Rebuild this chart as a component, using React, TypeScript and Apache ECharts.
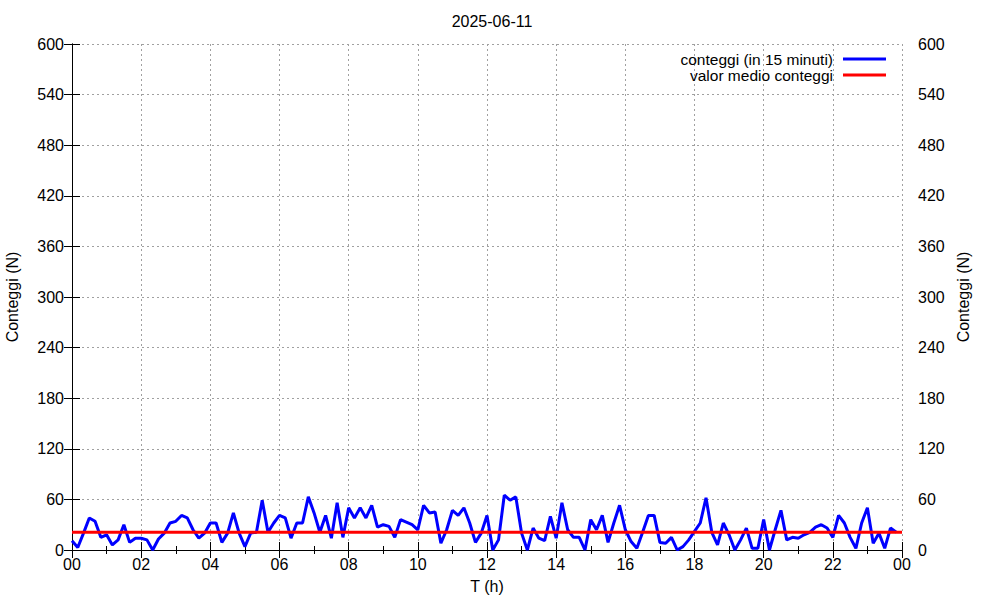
import React, { useEffect, useRef } from "react";
import * as echarts from "echarts";

const TITLE = "2025-06-11";
const SERIES_NAME = "conteggi (in 15 minuti)";
const MEAN_NAME = "valor medio conteggi";
const Y_NAME = "Conteggi (N)";
const X_NAME = "T (h)";

// one reading every 10 minutes, 00:00 .. 23:50
const STEP_H = 1 / 6;
const counts = [
  11, 3, 20, 38, 34, 15, 18, 6, 12, 30, 9, 14, 14, 12, 0, 13, 20, 32, 34, 41,
  38, 24, 14, 20, 32, 32, 9, 20, 44, 20, 4, 20, 21, 59, 21, 32, 41, 38, 14, 32,
  32, 63, 44, 21, 41, 14, 56, 15, 50, 38, 50, 38, 53, 27, 30, 28, 15, 36, 33, 30,
  24, 53, 44, 45, 8, 24, 47, 41, 50, 32, 9, 20, 41, 0, 12, 65, 59, 63, 20, 0,
  26, 14, 11, 40, 14, 56, 24, 15, 15, 0, 36, 24, 41, 9, 32, 53, 24, 10, 2, 21,
  41, 41, 9, 8, 15, 0, 4, 12, 22, 32, 62, 21, 6, 32, 18, 0, 12, 26, 2, 2,
  36, 0, 24, 47, 12, 15, 14, 18, 21, 27, 30, 26, 15, 41, 32, 15, 2, 32, 50, 8,
  20, 2, 26, 21,
];
const meanValue = 21;
const X_MIN = 0;
const X_MAX = 24;
const X_STEP = 2;
const Y_MIN = 0;
const Y_MAX = 600;
const Y_STEP = 60;

const FONT = "'Liberation Sans', Arial, sans-serif";

export default function App() {
  const ref = useRef<HTMLDivElement>(null);
  useEffect(() => {
    if (!ref.current) return;
    const chart = echarts.init(ref.current, null, { renderer: "svg" });
    const dataMain = counts.map((v, i) => [i * STEP_H, v]);
    const dataMean = [
      [X_MIN, meanValue],
      [X_MAX, meanValue],
    ];
    const fmtX = (v: number) => {
      const h = Math.round(v) % 24;
      return h < 10 ? "0" + h : String(h);
    };
    const grid = { type: [2, 3], color: "#a0a0a0", width: 1 };
    const axisLine = { show: true, lineStyle: { color: "#000", width: 1 } };
    const txt = { color: "#000", fontFamily: FONT, fontSize: 16 };
    chart.setOption({
      animation: false,
      backgroundColor: "#fff",
      textStyle: { fontFamily: FONT },
      title: {
        text: TITLE,
        left: 487,
        textAlign: "center",
        top: 8,
        textStyle: { ...txt, fontWeight: "normal" },
      },
      legend: {
        orient: "vertical",
        right: 109,
        top: 46,
        align: "right",
        itemWidth: 43,
        itemHeight: 3,
        itemGap: 0,
        icon: "rect",
        textStyle: { ...txt, fontSize: 15.5, lineHeight: 15, padding: [0, 5, 0, 0] },
        data: [SERIES_NAME, MEAN_NAME],
      },
      grid: { left: 72, right: 98, top: 44, bottom: 50, outerBoundsMode: "none", containLabel: false },
      xAxis: [
        {
          type: "value",
          min: X_MIN,
          max: X_MAX,
          interval: X_STEP,
          position: "bottom",
          name: X_NAME,
          nameLocation: "middle",
          nameGap: 28,
          nameTextStyle: txt,
          axisLine,
          axisTick: { show: true, inside: true, length: 8, lineStyle: { color: "#000" } },
          minorTick: { show: true, splitNumber: 2, length: 4, lineStyle: { color: "#000" } },
          axisLabel: { ...txt, margin: 6, formatter: fmtX },
          splitLine: { show: true, lineStyle: grid },
        },
        {
          type: "value",
          min: X_MIN,
          max: X_MAX,
          interval: X_STEP,
          position: "top",
          axisLine,
          axisTick: { show: true, inside: true, length: 8, lineStyle: { color: "#000" } },
          minorTick: { show: true, splitNumber: 2, length: 4, lineStyle: { color: "#000" } },
          axisLabel: { show: false },
          splitLine: { show: false },
        },
      ],
      yAxis: [
        {
          type: "value",
          min: Y_MIN,
          max: Y_MAX,
          interval: Y_STEP,
          position: "left",
          name: Y_NAME,
          nameLocation: "middle",
          nameGap: 52,
          nameTextStyle: txt,
          axisLine,
          axisTick: { show: true, inside: true, length: 8, lineStyle: { color: "#000" } },
          axisLabel: { ...txt, margin: 8 },
          splitLine: { show: true, lineStyle: grid },
        },
        {
          type: "value",
          min: Y_MIN,
          max: Y_MAX,
          interval: Y_STEP,
          position: "right",
          name: Y_NAME,
          nameLocation: "middle",
          nameGap: 52,
          nameTextStyle: txt,
          axisLine,
          axisTick: { show: true, inside: true, length: 8, lineStyle: { color: "#000" } },
          axisLabel: { ...txt, margin: 16 },
          splitLine: { show: false },
        },
      ],
      series: [
        {
          name: SERIES_NAME,
          type: "line",
          data: dataMain,
          showSymbol: false,
          lineStyle: { color: "#0000ff", width: 3 },
          itemStyle: { color: "#0000ff" },
          z: 3,
        },
        {
          name: MEAN_NAME,
          type: "line",
          data: dataMean,
          showSymbol: false,
          lineStyle: { color: "#ff0000", width: 3 },
          itemStyle: { color: "#ff0000" },
          z: 4,
        },
      ],
    });
    return () => chart.dispose();
  }, []);
  return <div ref={ref} style={{ width: 1000, height: 600, position: "absolute", left: 0, top: 0 }} />;
}
